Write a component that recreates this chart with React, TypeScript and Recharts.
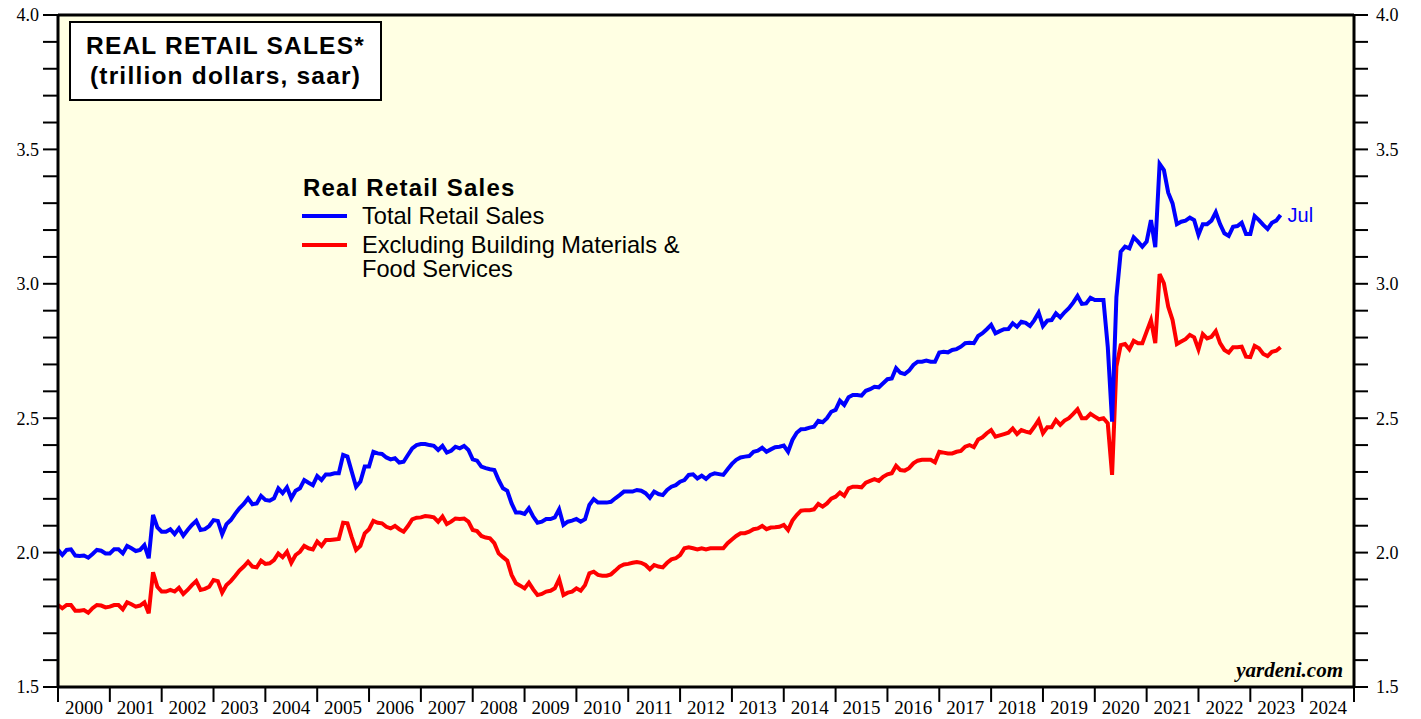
import { LineChart, Line, XAxis, YAxis, CartesianGrid, ReferenceLine, Legend } from 'recharts'

const W = 1421
const H = 719
const PLOT_LEFT = 58
const PLOT_RIGHT = 1354
const YEAR_PX = (PLOT_RIGHT - PLOT_LEFT) / 25

const SANS = "'Liberation Sans', Arial, Helvetica, sans-serif"
const SERIF = "'Liberation Serif', 'Times New Roman', serif"

// first value is Dec 1999 (plotted on the 2000 axis edge), then monthly Jan 2000 .. Jul 2023
const startYear = 2000
const lastMonth = 'Jul'

const yearTicks = [
  2000, 2001, 2002, 2003, 2004, 2005, 2006, 2007, 2008, 2009, 2010, 2011, 2012,
  2013, 2014, 2015, 2016, 2017, 2018, 2019, 2020, 2021, 2022, 2023, 2024, 2025,
]

const yTicks = [
  1.5, 1.6, 1.7, 1.8, 1.9, 2.0, 2.1, 2.2, 2.3, 2.4, 2.5, 2.6, 2.7, 2.8, 2.9,
  3.0, 3.1, 3.2, 3.3, 3.4, 3.5, 3.6, 3.7, 3.8, 3.9, 4.0,
]

// trillion dollars, saar
const totalSales = [
  2.010,
  1.991, 2.010, 2.012, 1.989, 1.987, 1.989, 1.981, 1.995, 2.010, 2.007, 1.997, 1.997,
  2.012, 2.012, 1.997, 2.025, 2.016, 2.006, 2.010, 2.028, 1.979, 2.140, 2.094, 2.078,
  2.078, 2.087, 2.069, 2.090, 2.063, 2.084, 2.103, 2.118, 2.084, 2.087, 2.099, 2.121,
  2.118, 2.068, 2.106, 2.121, 2.144, 2.165, 2.181, 2.202, 2.180, 2.183, 2.211, 2.196,
  2.193, 2.202, 2.239, 2.221, 2.243, 2.202, 2.230, 2.239, 2.270, 2.260, 2.251, 2.285,
  2.270, 2.291, 2.291, 2.295, 2.295, 2.363, 2.357, 2.301, 2.245, 2.264, 2.320, 2.320,
  2.375, 2.369, 2.367, 2.354, 2.347, 2.351, 2.335, 2.338, 2.363, 2.388, 2.400, 2.404,
  2.404, 2.400, 2.397, 2.382, 2.397, 2.372, 2.379, 2.394, 2.388, 2.397, 2.382, 2.347,
  2.342, 2.320, 2.314, 2.310, 2.307, 2.270, 2.239, 2.230, 2.183, 2.149, 2.149, 2.144,
  2.165, 2.134, 2.111, 2.115, 2.125, 2.125, 2.131, 2.161, 2.103, 2.115, 2.119, 2.125,
  2.115, 2.124, 2.177, 2.199, 2.186, 2.186, 2.186, 2.189, 2.202, 2.214, 2.227, 2.227,
  2.227, 2.233, 2.230, 2.221, 2.204, 2.227, 2.218, 2.214, 2.233, 2.245, 2.251, 2.264,
  2.270, 2.289, 2.291, 2.276, 2.286, 2.274, 2.289, 2.295, 2.292, 2.289, 2.310, 2.330,
  2.345, 2.354, 2.357, 2.359, 2.375, 2.379, 2.390, 2.375, 2.384, 2.392, 2.394, 2.398,
  2.375, 2.419, 2.446, 2.459, 2.460, 2.465, 2.468, 2.490, 2.485, 2.500, 2.524, 2.531,
  2.565, 2.549, 2.578, 2.586, 2.586, 2.584, 2.602, 2.608, 2.617, 2.615, 2.630, 2.645,
  2.648, 2.686, 2.669, 2.664, 2.677, 2.698, 2.710, 2.710, 2.714, 2.710, 2.710, 2.744,
  2.747, 2.745, 2.754, 2.757, 2.766, 2.779, 2.781, 2.779, 2.806, 2.816, 2.831, 2.847,
  2.816, 2.824, 2.831, 2.832, 2.853, 2.840, 2.859, 2.855, 2.843, 2.865, 2.893, 2.843,
  2.863, 2.865, 2.890, 2.875, 2.894, 2.909, 2.930, 2.955, 2.925, 2.927, 2.948, 2.940,
  2.940, 2.940, 2.766, 2.487, 2.950, 3.119, 3.138, 3.132, 3.173, 3.157, 3.138, 3.157,
  3.237, 3.136, 3.446, 3.423, 3.339, 3.299, 3.222, 3.231, 3.235, 3.246, 3.237, 3.182,
  3.222, 3.222, 3.235, 3.266, 3.222, 3.188, 3.178, 3.212, 3.215, 3.227, 3.185, 3.185,
  3.252, 3.237, 3.219, 3.204, 3.227, 3.235, 3.256,
]

const exBuildingFood = [
  1.805,
  1.793, 1.805, 1.805, 1.784, 1.784, 1.786, 1.776, 1.793, 1.805, 1.803, 1.796, 1.799,
  1.805, 1.805, 1.789, 1.815, 1.808, 1.799, 1.803, 1.815, 1.774, 1.927, 1.873, 1.855,
  1.855, 1.861, 1.855, 1.869, 1.846, 1.861, 1.879, 1.894, 1.861, 1.865, 1.873, 1.898,
  1.894, 1.851, 1.879, 1.894, 1.913, 1.933, 1.948, 1.966, 1.948, 1.945, 1.970, 1.958,
  1.960, 1.972, 1.997, 1.983, 2.003, 1.962, 1.991, 2.003, 2.025, 2.016, 2.012, 2.041,
  2.025, 2.047, 2.047, 2.049, 2.051, 2.111, 2.109, 2.057, 2.010, 2.025, 2.072, 2.087,
  2.118, 2.111, 2.109, 2.096, 2.090, 2.099, 2.087, 2.078, 2.099, 2.124, 2.130, 2.131,
  2.136, 2.134, 2.131, 2.115, 2.134, 2.106, 2.115, 2.127, 2.125, 2.127, 2.115, 2.084,
  2.080, 2.062, 2.056, 2.053, 2.035, 1.997, 1.983, 1.970, 1.917, 1.886, 1.877, 1.867,
  1.888, 1.863, 1.842, 1.846, 1.855, 1.858, 1.867, 1.901, 1.842, 1.851, 1.855, 1.867,
  1.858, 1.879, 1.923, 1.929, 1.917, 1.914, 1.914, 1.919, 1.933, 1.948, 1.956, 1.958,
  1.962, 1.965, 1.962, 1.954, 1.938, 1.954, 1.948, 1.945, 1.962, 1.975, 1.979, 1.991,
  2.016, 2.020, 2.016, 2.012, 2.016, 2.012, 2.016, 2.016, 2.016, 2.016, 2.035, 2.049,
  2.062, 2.072, 2.072, 2.078, 2.087, 2.090, 2.099, 2.087, 2.093, 2.094, 2.096, 2.103,
  2.084, 2.119, 2.140, 2.156, 2.158, 2.158, 2.161, 2.181, 2.171, 2.183, 2.201, 2.208,
  2.223, 2.211, 2.239, 2.245, 2.245, 2.243, 2.260, 2.267, 2.273, 2.267, 2.282, 2.291,
  2.295, 2.323, 2.307, 2.305, 2.314, 2.332, 2.342, 2.345, 2.345, 2.345, 2.336, 2.375,
  2.372, 2.369, 2.369, 2.375, 2.378, 2.394, 2.400, 2.392, 2.421, 2.429, 2.444, 2.456,
  2.431, 2.436, 2.441, 2.446, 2.462, 2.441, 2.456, 2.450, 2.446, 2.468, 2.493, 2.444,
  2.466, 2.466, 2.493, 2.475, 2.491, 2.500, 2.516, 2.533, 2.500, 2.500, 2.516, 2.506,
  2.496, 2.500, 2.481, 2.289, 2.692, 2.772, 2.776, 2.756, 2.788, 2.779, 2.779, 2.822,
  2.865, 2.779, 3.036, 3.002, 2.915, 2.865, 2.776, 2.785, 2.794, 2.810, 2.801, 2.756,
  2.813, 2.797, 2.803, 2.824, 2.779, 2.754, 2.744, 2.764, 2.764, 2.766, 2.729, 2.727,
  2.769, 2.760, 2.739, 2.731, 2.747, 2.751, 2.764,
]

const data = totalSales.map((v, i) => ({
  t: startYear + i / 12,
  total: v,
  core: exBuildingFood[i],
}))

const fmtY = (v: number) => (Math.abs(v * 2 - Math.round(v * 2)) < 1e-6 ? v.toFixed(1) : '')

function YearTick({ x, y, payload }: any) {
  return (
    <g>
      <line x1={x} y1={y} x2={x} y2={y + 15} stroke="#000" strokeWidth={2} />
      {payload.value < 2025 && (
        <text x={x + YEAR_PX / 2} y={y + 27} textAnchor="middle" fontFamily={SERIF} fontSize={19} fill="#000">
          {payload.value}
        </text>
      )}
    </g>
  )
}

const renderJul = (props: any) => {
  if (props.index !== totalSales.length - 1) return null
  return (
    <text x={props.x + 7} y={props.y} dy={7} fill="#0000ff" fontSize={20} fontFamily={SANS}>
      {lastMonth}
    </text>
  )
}

function LegendBox({ payload }: any) {
  const items = (payload || []).slice().reverse()
  return (
    <div style={{ position: 'relative', width: 440, height: 110, fontFamily: SANS, color: '#000' }}>
      <div style={{ position: 'absolute', left: 1, top: 1, fontSize: 24, fontWeight: 'bold', letterSpacing: 1.2, lineHeight: '30px', whiteSpace: 'nowrap' }}>
        Real Retail Sales
      </div>
      {items.map((it: any, i: number) => (
        <div key={it.value} style={{ position: 'absolute', left: 0, top: i === 0 ? 30 : 61 }}>
          <div style={{ position: 'absolute', left: 0, top: i === 0 ? 12 : 10, width: 45, height: 4, background: it.color }} />
          <div style={{ position: 'absolute', left: 60, top: 0, width: 350, fontSize: 23.6, lineHeight: i === 0 ? '28px' : '24px' }}>
            {it.value}
          </div>
        </div>
      ))}
    </div>
  )
}

export default function App() {
  return (
    <div style={{ position: 'absolute', left: 0, top: 0, width: W, height: H, background: '#fff' }}>
      <LineChart width={W} height={H} data={data} margin={{ top: 15, right: 0, bottom: 0, left: 0 }}>
        <CartesianGrid fill="#ffffe3" stroke="none" horizontal={false} vertical={false} yAxisId="l" />
        <XAxis
          dataKey="t"
          type="number"
          domain={[2000, 2025]}
          ticks={yearTicks}
          interval={0}
          allowDataOverflow
          height={32}
          tickSize={0}
          tickMargin={0}
          tickLine={false}
          tick={<YearTick />}
          axisLine={{ stroke: '#000', strokeWidth: 3 }}
        />
        <YAxis
          yAxisId="l"
          orientation="left"
          width={58}
          domain={[1.5, 4]}
          ticks={yTicks}
          interval={0}
          allowDataOverflow
          tickFormatter={fmtY}
          tickSize={15}
          tickMargin={4}
          tickLine={{ stroke: '#000', strokeWidth: 2 }}
          axisLine={{ stroke: '#000', strokeWidth: 3 }}
          tick={{ fill: '#000', fontSize: 18, fontFamily: SERIF }}
        />
        <YAxis
          yAxisId="r"
          orientation="right"
          width={67}
          domain={[1.5, 4]}
          ticks={yTicks}
          interval={0}
          allowDataOverflow
          tickFormatter={fmtY}
          tickSize={14}
          tickMargin={8}
          tickLine={{ stroke: '#000', strokeWidth: 2 }}
          axisLine={{ stroke: '#000', strokeWidth: 3 }}
          tick={{ fill: '#000', fontSize: 18, fontFamily: SERIF }}
        />
        <ReferenceLine yAxisId="l" y={4} stroke="#000" strokeWidth={3} />
        <Line
          yAxisId="l"
          type="linear"
          dataKey="core"
          name="Excluding Building Materials & Food Services"
          stroke="#ff0000"
          strokeWidth={4}
          dot={false}
          isAnimationActive={false}
        />
        <Line
          yAxisId="l"
          type="linear"
          dataKey="total"
          name="Total Retail Sales"
          stroke="#0000ff"
          strokeWidth={4}
          dot={false}
          label={renderJul}
          isAnimationActive={false}
        />
        <Legend
          layout="vertical"
          align="center"
          verticalAlign="middle"
          wrapperStyle={{ left: 302, top: 172, width: 440, height: 110 }}
          content={<LegendBox />}
        />
      </LineChart>

      <div
        style={{
          position: 'absolute',
          left: 69,
          top: 21,
          width: 313,
          height: 80,
          boxSizing: 'border-box',
          border: '2px solid #000',
          background: '#fff',
          display: 'flex',
          flexDirection: 'column',
          justifyContent: 'center',
          alignItems: 'center',
          fontFamily: SANS,
          fontWeight: 'bold',
          fontSize: 24.5,
          letterSpacing: 1.2,
          lineHeight: '30px',
          color: '#000',
          whiteSpace: 'nowrap',
        }}
      >
        <div>REAL RETAIL SALES*</div>
        <div>(trillion dollars, saar)</div>
      </div>

      <div
        style={{
          position: 'absolute',
          right: W - 1343,
          top: 660,
          fontFamily: SERIF,
          fontWeight: 'bold',
          fontStyle: 'italic',
          fontSize: 21,
          lineHeight: '21px',
          color: '#000',
        }}
      >
        yardeni.com
      </div>
    </div>
  )
}
